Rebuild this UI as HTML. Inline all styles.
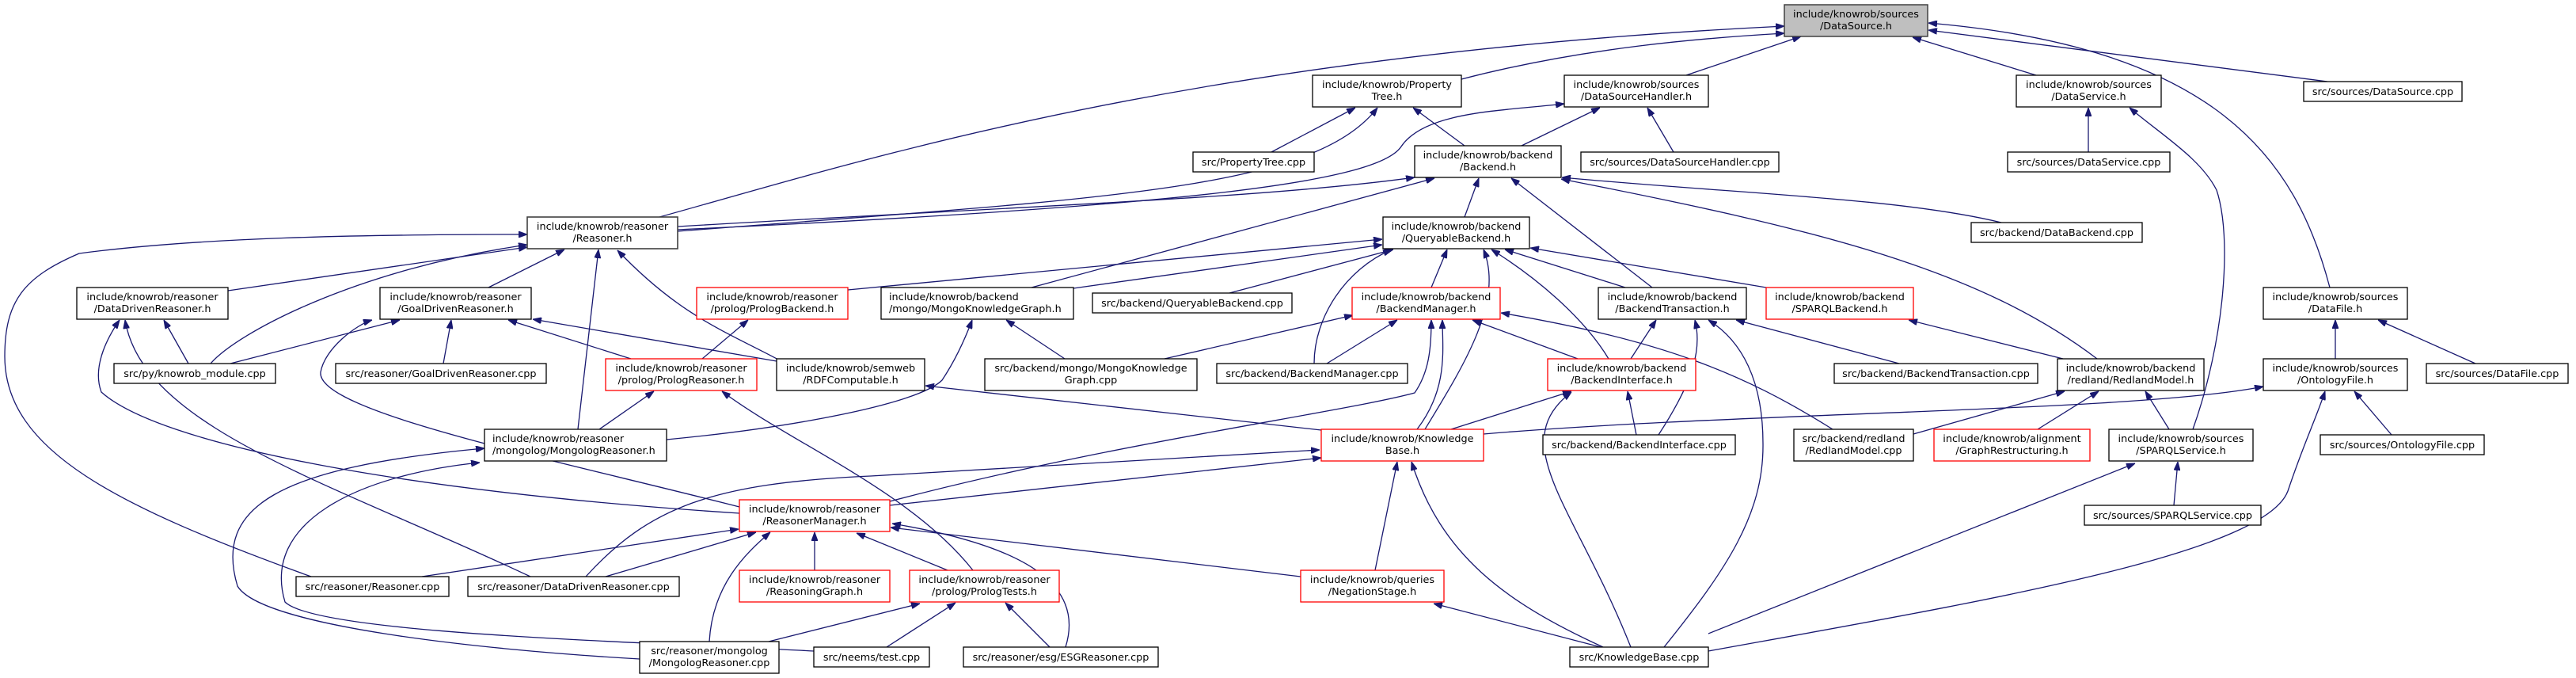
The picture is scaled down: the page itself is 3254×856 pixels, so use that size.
<!DOCTYPE html>
<html><head><meta charset="utf-8"><style>
html,body{margin:0;padding:0;background:#fff;}
svg{display:block;}
text{font-family:"DejaVu Sans","Liberation Sans",sans-serif;font-size:12.8px;fill:#000;}
.e{fill:none;stroke:#191970;stroke-width:1.3;marker-end:url(#a);}
.n{fill:#fff;stroke:#000;stroke-width:1.3;}
.r{fill:#fff;stroke:#ff0000;stroke-width:1.3;}
</style></head><body>
<svg width="3254" height="856" viewBox="0 0 3254 856" xmlns="http://www.w3.org/2000/svg">
<defs><marker id="a" viewBox="0 0 11 8" markerWidth="11" markerHeight="8" refX="11" refY="4" orient="auto" markerUnits="userSpaceOnUse"><path d="M0,0 L11,4 L0,8 z" fill="#191970" stroke="#191970"/></marker></defs>
<g>
<path class="e" d="M833 274 C1100 200,1500 70,2254 33"/>
<path class="e" d="M1846 100 C2000 60,2150 48,2254 42"/>
<path class="e" d="M2130 95 L2275 46"/>
<path class="e" d="M2572 95 L2416 47"/>
<path class="e" d="M2940 103 L2436 38"/>
<path class="e" d="M2943 363 C2900 200,2800 60,2436 29"/>
<path class="e" d="M1606 192 L1712 136"/>
<path class="e" d="M856 292 C1400 250,1660 240,1740 136"/>
<path class="e" d="M1850 184 L1785 136"/>
<path class="e" d="M856 290 C1500 260,1740 230,1770 185 S1900 140,1976 131"/>
<path class="e" d="M1922 184 L2021 136"/>
<path class="e" d="M2114 192 L2081 136"/>
<path class="e" d="M856 286 C1300 260,1600 250,1787 224"/>
<path class="e" d="M1303 363 L1812 225"/>
<path class="e" d="M1850 274 L1868 225"/>
<path class="e" d="M2087 363 L1909 225"/>
<path class="e" d="M2649 453 C2500 340,2300 290,1972 226"/>
<path class="e" d="M2528 281 C2400 250,2200 245,1973 224"/>
<path class="e" d="M288 367 L666 312"/>
<path class="e" d="M617 363 L713 315"/>
<path class="e" d="M266 459 C300 420,450 340,666 309"/>
<path class="e" d="M393 728 C150 640,6 570,6 450 C6 380,30 350,100 320 C250 300,450 296,666 296"/>
<path class="e" d="M730 542 L756 315"/>
<path class="e" d="M985 455 C920 420,860 400,780 316"/>
<path class="e" d="M560 459 L570 404"/>
<path class="e" d="M238 459 L207 404"/>
<path class="e" d="M291 459 L505 404"/>
<path class="e" d="M670 728 C420 610,180 540,158 404"/>
<path class="e" d="M934 648 C500 620,200 560,128 495 C115 460,140 420,151 404"/>
<path class="e" d="M934 640 C700 580,400 520,405 470 C410 440,450 410,470 404"/>
<path class="e" d="M797 453 L642 404"/>
<path class="e" d="M981 456 L673 403"/>
<path class="e" d="M887 453 L945 404"/>
<path class="e" d="M757 542 L826 494"/>
<path class="e" d="M1229 720 C1150 620,1000 560,912 494"/>
<path class="e" d="M1669 543 L1169 487"/>
<path class="e" d="M842 555 C1000 540,1160 510,1190 480 C1210 450,1222 420,1228 404"/>
<path class="e" d="M808 832 C600 820,330 790,300 740 C270 640,350 590,612 566"/>
<path class="e" d="M1028 822 C800 810,400 800,360 760 C330 660,450 600,606 584"/>
<path class="e" d="M1345 453 L1271 404"/>
<path class="e" d="M1471 453 L1709 398"/>
<path class="e" d="M1676 459 L1765 404"/>
<path class="e" d="M1660 459 C1660 400,1700 340,1758 315"/>
<path class="e" d="M1356 364 L1746 309"/>
<path class="e" d="M1071 366 L1746 302"/>
<path class="e" d="M1553 370 L1760 315"/>
<path class="e" d="M1808 363 L1828 315"/>
<path class="e" d="M1800 542 C1850 460,1900 380,1874 315"/>
<path class="e" d="M2053 363 L1901 315"/>
<path class="e" d="M2231 363 L1933 313"/>
<path class="e" d="M2032 453 C2000 400,1940 350,1884 315"/>
<path class="e" d="M1124 633 C1400 560,1700 520,1787 496 C1805 470,1808 440,1808 404"/>
<path class="e" d="M1790 542 C1830 490,1822 440,1822 404"/>
<path class="e" d="M1993 453 L1860 404"/>
<path class="e" d="M2315 542 C2200 470,2100 430,1896 395"/>
<path class="e" d="M2060 453 L2092 404"/>
<path class="e" d="M2399 459 L2193 404"/>
<path class="e" d="M2095 549 C2140 480,2150 440,2141 404"/>
<path class="e" d="M2102 817 C2180 720,2228 650,2227 560 C2227 480,2200 430,2158 404"/>
<path class="e" d="M1833 542 L1985 494"/>
<path class="e" d="M2067 549 L2056 494"/>
<path class="e" d="M2060 817 C1990 640,1900 560,1985 495"/>
<path class="e" d="M2606 453 L2411 404"/>
<path class="e" d="M2417 548 L2608 494"/>
<path class="e" d="M2574 542 L2651 494"/>
<path class="e" d="M2740 542 L2710 494"/>
<path class="e" d="M2950 453 L2950 404"/>
<path class="e" d="M1874 548 C2200 520,2700 520,2859 488"/>
<path class="e" d="M3021 549 L2974 494"/>
<path class="e" d="M2158 822 C2500 760,2860 700,2890 620 C2910 560,2925 530,2937 494"/>
<path class="e" d="M3127 459 L3004 404"/>
<path class="e" d="M2770 542 C2810 430,2820 300,2800 240 C2780 200,2730 170,2690 136"/>
<path class="e" d="M2746 638 L2751 583"/>
<path class="e" d="M2158 800 L2697 585"/>
<path class="e" d="M2638 192 L2638 136"/>
<path class="e" d="M1124 638 L1669 578"/>
<path class="e" d="M740 728 C820 640,900 610,1100 601 L1667 568"/>
<path class="e" d="M765 728 L955 672"/>
<path class="e" d="M533 728 L933 668"/>
<path class="e" d="M896 810 C900 740,940 700,973 672"/>
<path class="e" d="M1029 720 L1029 672"/>
<path class="e" d="M1197 720 L1082 673"/>
<path class="e" d="M1346 817 C1370 740,1300 690,1127 661"/>
<path class="e" d="M1643 728 L1125 666"/>
<path class="e" d="M1737 720 L1765 583"/>
<path class="e" d="M2025 817 C1900 760,1820 700,1783 583"/>
<path class="e" d="M2022 817 L1811 762"/>
<path class="e" d="M1120 817 L1207 761"/>
<path class="e" d="M1326 817 L1270 761"/>
<path class="e" d="M971 810 L1162 762"/>
</g>
<g text-anchor="middle">
<rect x="2254" y="6" width="181" height="40" fill="#bfbfbf" stroke="#404040" stroke-width="1.5"/><text x="2344.5" y="22">include/knowrob/sources</text><text x="2344.5" y="37">/DataSource.h</text>
<rect class="n" x="1658" y="95" width="188" height="40"/><text x="1752" y="111">include/knowrob/Property</text><text x="1752" y="126">Tree.h</text>
<rect class="n" x="1976" y="95" width="182" height="40"/><text x="2067" y="111">include/knowrob/sources</text><text x="2067" y="126">/DataSourceHandler.h</text>
<rect class="n" x="2547" y="95" width="183" height="40"/><text x="2638.5" y="111">include/knowrob/sources</text><text x="2638.5" y="126">/DataService.h</text>
<rect class="n" x="2910" y="103" width="200" height="25"/><text x="3010" y="120">src/sources/DataSource.cpp</text>
<rect class="n" x="1507" y="192" width="153" height="25"/><text x="1583.5" y="209">src/PropertyTree.cpp</text>
<rect class="n" x="1787" y="184" width="185" height="40"/><text x="1879.5" y="200">include/knowrob/backend</text><text x="1879.5" y="215">/Backend.h</text>
<rect class="n" x="1997" y="192" width="250" height="25"/><text x="2122" y="209">src/sources/DataSourceHandler.cpp</text>
<rect class="n" x="2536" y="192" width="205" height="25"/><text x="2638.5" y="209">src/sources/DataService.cpp</text>
<rect x="666" y="274" width="190" height="40" fill="#fff" stroke="#404040" stroke-width="1.6"/><text x="761" y="290">include/knowrob/reasoner</text><text x="761" y="305">/Reasoner.h</text>
<rect class="n" x="1747" y="274" width="185" height="40"/><text x="1839.5" y="290">include/knowrob/backend</text><text x="1839.5" y="305">/QueryableBackend.h</text>
<rect class="n" x="2490" y="281" width="216" height="25"/><text x="2598" y="298">src/backend/DataBackend.cpp</text>
<rect class="n" x="97" y="363" width="191" height="40"/><text x="192.5" y="379">include/knowrob/reasoner</text><text x="192.5" y="394">/DataDrivenReasoner.h</text>
<rect class="n" x="480" y="363" width="191" height="40"/><text x="575.5" y="379">include/knowrob/reasoner</text><text x="575.5" y="394">/GoalDrivenReasoner.h</text>
<rect class="r" x="880" y="363" width="191" height="40"/><text x="975.5" y="379">include/knowrob/reasoner</text><text x="975.5" y="394">/prolog/PrologBackend.h</text>
<rect class="n" x="1113" y="363" width="243" height="40"/><text x="1123" y="379" text-anchor="start">include/knowrob/backend</text><text x="1123" y="394" text-anchor="start">/mongo/MongoKnowledgeGraph.h</text>
<rect class="n" x="1380" y="370" width="252" height="25"/><text x="1506" y="387">src/backend/QueryableBackend.cpp</text>
<rect class="r" x="1708" y="363" width="187" height="40"/><text x="1801.5" y="379">include/knowrob/backend</text><text x="1801.5" y="394">/BackendManager.h</text>
<rect class="n" x="2019" y="363" width="187" height="40"/><text x="2112.5" y="379">include/knowrob/backend</text><text x="2112.5" y="394">/BackendTransaction.h</text>
<rect class="r" x="2231" y="363" width="186" height="40"/><text x="2324" y="379">include/knowrob/backend</text><text x="2324" y="394">/SPARQLBackend.h</text>
<rect class="n" x="2859" y="363" width="182" height="40"/><text x="2950" y="379">include/knowrob/sources</text><text x="2950" y="394">/DataFile.h</text>
<rect class="n" x="144" y="459" width="204" height="25"/><text x="246" y="476">src/py/knowrob_module.cpp</text>
<rect class="n" x="424" y="459" width="266" height="25"/><text x="557" y="476">src/reasoner/GoalDrivenReasoner.cpp</text>
<rect class="r" x="765" y="453" width="191" height="40"/><text x="860.5" y="469">include/knowrob/reasoner</text><text x="860.5" y="484">/prolog/PrologReasoner.h</text>
<rect class="n" x="981" y="453" width="187" height="40"/><text x="1074.5" y="469">include/knowrob/semweb</text><text x="1074.5" y="484">/RDFComputable.h</text>
<rect class="n" x="1244" y="453" width="268" height="40"/><text x="1378" y="469">src/backend/mongo/MongoKnowledge</text><text x="1378" y="484">Graph.cpp</text>
<rect class="n" x="1537" y="459" width="241" height="25"/><text x="1657.5" y="476">src/backend/BackendManager.cpp</text>
<rect class="r" x="1955" y="453" width="187" height="40"/><text x="2048.5" y="469">include/knowrob/backend</text><text x="2048.5" y="484">/BackendInterface.h</text>
<rect class="n" x="2317" y="459" width="257" height="25"/><text x="2445.5" y="476">src/backend/BackendTransaction.cpp</text>
<rect class="n" x="2599" y="453" width="185" height="40"/><text x="2691.5" y="469">include/knowrob/backend</text><text x="2691.5" y="484">/redland/RedlandModel.h</text>
<rect class="n" x="2859" y="453" width="182" height="40"/><text x="2950" y="469">include/knowrob/sources</text><text x="2950" y="484">/OntologyFile.h</text>
<rect class="n" x="3065" y="459" width="179" height="25"/><text x="3154.5" y="476">src/sources/DataFile.cpp</text>
<rect class="n" x="612" y="542" width="230" height="40"/><text x="622" y="558" text-anchor="start">include/knowrob/reasoner</text><text x="622" y="573" text-anchor="start">/mongolog/MongologReasoner.h</text>
<rect class="r" x="1669" y="542" width="205" height="40"/><text x="1771.5" y="558">include/knowrob/Knowledge</text><text x="1771.5" y="573">Base.h</text>
<rect class="n" x="1949" y="549" width="243" height="25"/><text x="2070.5" y="566">src/backend/BackendInterface.cpp</text>
<rect class="n" x="2266" y="542" width="151" height="40"/><text x="2341.5" y="558">src/backend/redland</text><text x="2341.5" y="573">/RedlandModel.cpp</text>
<rect class="r" x="2443" y="542" width="197" height="40"/><text x="2541.5" y="558">include/knowrob/alignment</text><text x="2541.5" y="573">/GraphRestructuring.h</text>
<rect class="n" x="2664" y="542" width="182" height="40"/><text x="2755" y="558">include/knowrob/sources</text><text x="2755" y="573">/SPARQLService.h</text>
<rect class="n" x="2931" y="549" width="207" height="25"/><text x="3034.5" y="566">src/sources/OntologyFile.cpp</text>
<rect class="r" x="934" y="631" width="190" height="40"/><text x="1029" y="647">include/knowrob/reasoner</text><text x="1029" y="662">/ReasonerManager.h</text>
<rect class="n" x="2633" y="638" width="223" height="25"/><text x="2744.5" y="655">src/sources/SPARQLService.cpp</text>
<rect class="n" x="374" y="728" width="193" height="25"/><text x="470.5" y="745">src/reasoner/Reasoner.cpp</text>
<rect class="n" x="591" y="728" width="267" height="25"/><text x="724.5" y="745">src/reasoner/DataDrivenReasoner.cpp</text>
<rect class="r" x="934" y="720" width="190" height="40"/><text x="1029" y="736">include/knowrob/reasoner</text><text x="1029" y="751">/ReasoningGraph.h</text>
<rect class="r" x="1149" y="720" width="189" height="40"/><text x="1243.5" y="736">include/knowrob/reasoner</text><text x="1243.5" y="751">/prolog/PrologTests.h</text>
<rect class="r" x="1643" y="720" width="181" height="40"/><text x="1733.5" y="736">include/knowrob/queries</text><text x="1733.5" y="751">/NegationStage.h</text>
<rect class="n" x="808" y="810" width="176" height="40"/><text x="896" y="826">src/reasoner/mongolog</text><text x="896" y="841">/MongologReasoner.cpp</text>
<rect class="n" x="1028" y="817" width="146" height="25"/><text x="1101" y="834">src/neems/test.cpp</text>
<rect class="n" x="1217" y="817" width="246" height="25"/><text x="1340" y="834">src/reasoner/esg/ESGReasoner.cpp</text>
<rect class="n" x="1983" y="817" width="175" height="25"/><text x="2070.5" y="834">src/KnowledgeBase.cpp</text>
</g>
</svg>
</body></html>
